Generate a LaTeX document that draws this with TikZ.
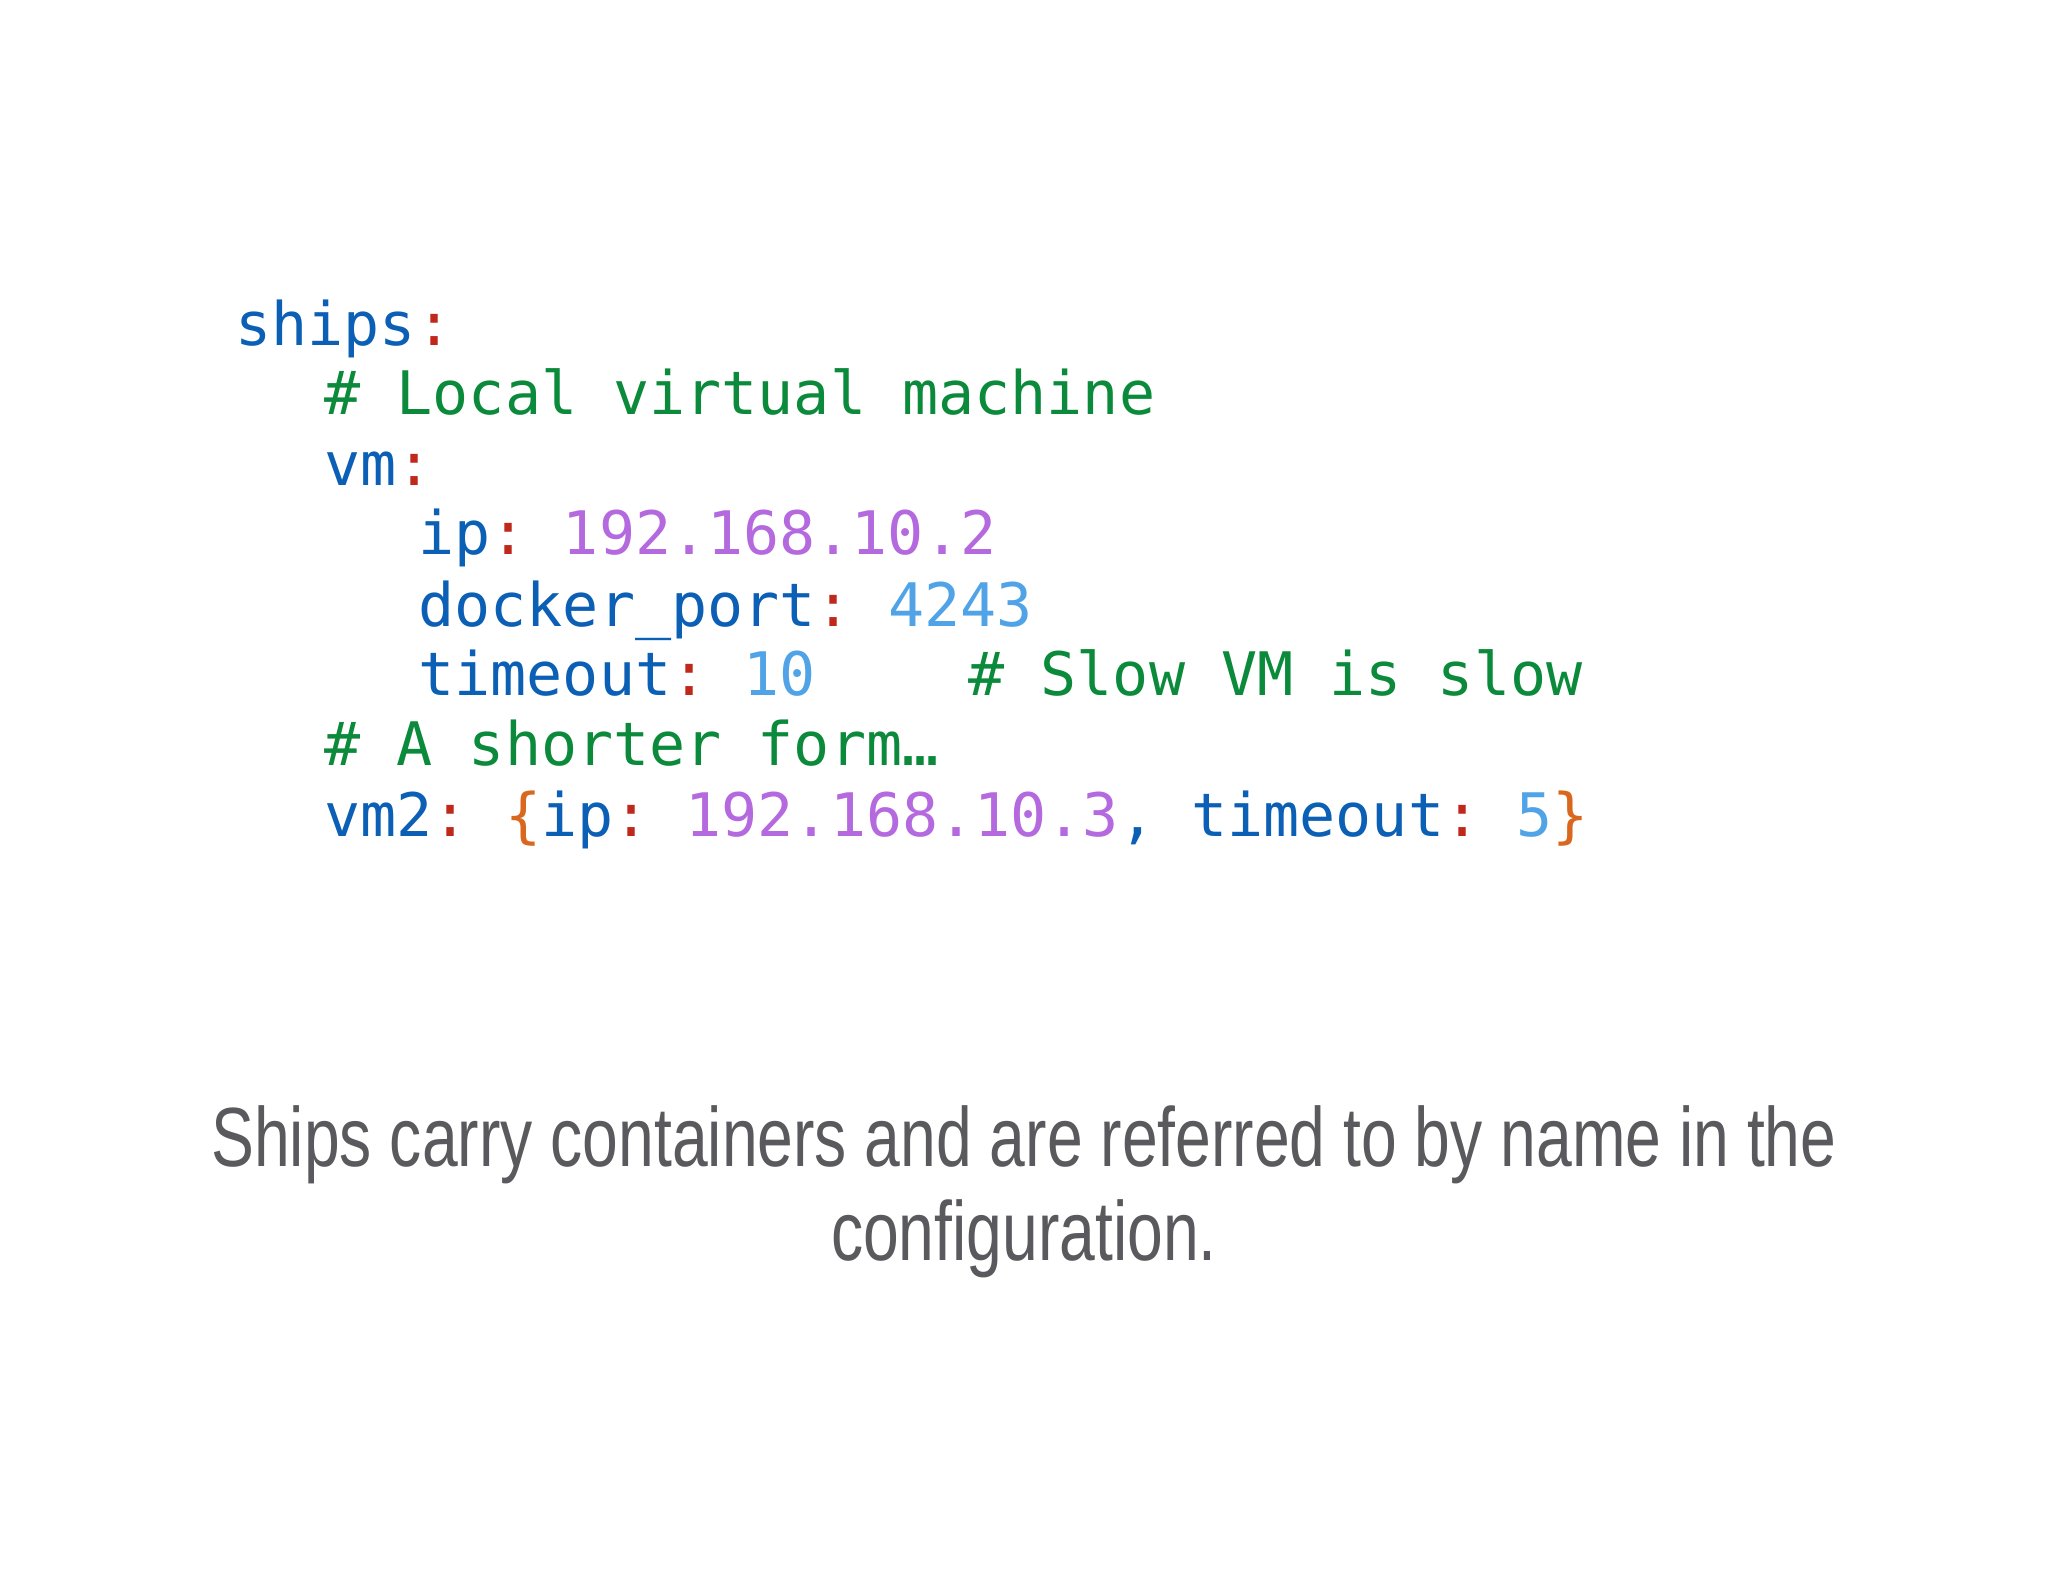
\documentclass[tikz,border=0pt]{standalone}
\usepackage{fontspec}
\setmonofont{DejaVu Sans Mono}
\setsansfont{Liberation Sans}
\definecolor{kblue}{HTML}{0B5FB5}
\definecolor{kred}{HTML}{C0281C}
\definecolor{kgreen}{HTML}{0A8A3A}
\definecolor{kpurp}{HTML}{B469DF}
\definecolor{klblue}{HTML}{4FA3E6}
\definecolor{korange}{HTML}{D9681E}
\definecolor{capgray}{HTML}{5A5A5E}
\newcommand{\K}[1]{\textcolor{kblue}{#1}}
\newcommand{\C}{\textcolor{kred}{:}}
\newcommand{\G}[1]{\textcolor{kgreen}{#1}}
\newcommand{\PU}[1]{\textcolor{kpurp}{#1}}
\newcommand{\LB}[1]{\textcolor{klblue}{#1}}
\newcommand{\OR}[1]{\textcolor{korange}{#1}}
\begin{document}
\begin{tikzpicture}[x=0.5pt,y=-0.5pt,
  code/.style={anchor=base west,inner sep=0pt,font=\ttfamily\fontsize{30pt}{36pt}\selectfont},
  captext/.style={anchor=base,inner sep=0pt,text=capgray,font=\sffamily\fontsize{42pt}{50pt}\selectfont}]
\useasboundingbox[fill=white] (0,0) rectangle (2048,1582);
\node[code] (l1) at (235,346) {\K{ships}\C};
\node[code] (l2) at (324,415) {\G{\# Local virtual machine}};
\node[code] (l3) at (324,486) {\K{vm}\C};
\node[code] (l4) at (418,555) {\K{ip}\C\ \PU{192.168.10.2}};
\node[code] (l5) at (418,626) {\K{docker\_port}\C\ \LB{4243}};
\node[code] (l6) at (418,695) {\K{timeout}\C\ \LB{10}};
\node[code] (l6c) at (968,695) {\G{\# Slow VM is slow}};
\node[code] (l7) at (324,765) {\G{\# A shorter form…}};
\node[code] (l8) at (324,836) {\K{vm2}\C\ \OR{\{}\K{ip}\C\ \PU{192.168.10.3}\K{,} \K{timeout}\C\ \LB{5}\OR{\}}};
\node[captext] (c1) at (1024,1166) {\scalebox{0.765}[1]{Ships carry containers and are referred to by name in the}};
\node[captext] (c2) at (1024,1260) {\scalebox{0.765}[1]{configuration.}};
\end{tikzpicture}
\end{document}
